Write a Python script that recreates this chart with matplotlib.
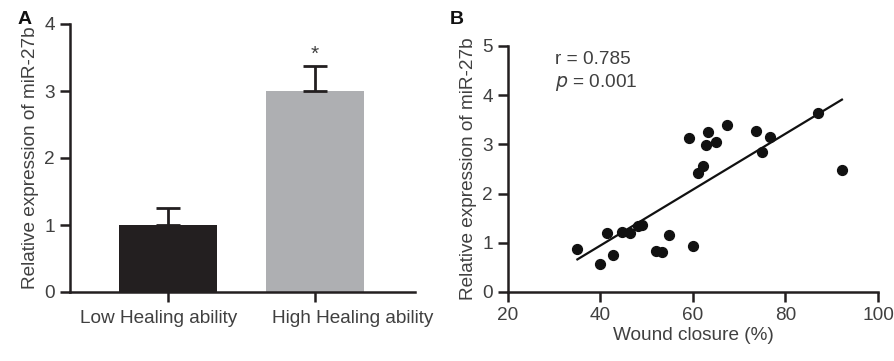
import numpy as np
import matplotlib
matplotlib.use("Agg")
import matplotlib.pyplot as plt

plt.rcParams['font.family'] = ['Liberation Sans', 'DejaVu Sans']

# Panel A data
groups = ["Low Healing ability", "High Healing ability"]
means = [1.0, 3.0]
errs = [0.26, 0.38]
bar_colors = ["#231f20", "#aeafb2"]

# Panel B data
wound = [35.0, 39.9, 41.5, 42.8, 44.6, 46.4, 48.2, 49.0, 51.9, 53.2, 54.9, 60.0,
         59.1, 61.0, 62.1, 62.8, 63.2, 65.0, 67.4, 73.7, 75.0, 76.6, 87.1, 92.2]
expr = [0.87, 0.57, 1.20, 0.75, 1.22, 1.19, 1.34, 1.36, 0.83, 0.81, 1.16, 0.94,
        3.14, 2.41, 2.57, 2.99, 3.25, 3.04, 3.39, 3.28, 2.85, 3.15, 3.63, 2.47]

W, H = 895, 361
fig = plt.figure(figsize=(W/100, H/100), dpi=100)
txt = "#404040"
fs = 13.7

def ax_rect(l, r, t, b):
    return [l/W, 1 - b/H, (r-l)/W, (b-t)/H]

# Panel A
axA = fig.add_axes(ax_rect(70, 415, 24, 292))
x = np.arange(len(groups))
axA.bar(x, means, width=0.667, color=bar_colors, zorder=2)
axA.errorbar(x, means, yerr=[[0, 0], errs], fmt='none', ecolor='#231f20',
             elinewidth=2, capsize=8.5, capthick=2, zorder=3)
axA.annotate("*", xy=(1, means[1] + errs[1]), xytext=(0, 1), textcoords='offset points',
             ha='center', va='bottom', fontsize=15, color=txt)
axA.set_xlim(-0.667, 1.68)
axA.set_ylim(0, 4)
axA.set_yticks([0, 1, 2, 3, 4])
axA.set_xticks(x)
axA.set_xticklabels([])
axA.set_ylabel("Relative expression of miR-27b", fontsize=fs, color=txt, labelpad=4)
# category labels sit off-centre from their ticks in the reference
shifts_pt = [-6.5, 27]
for xi, lab, dx in zip(x, groups, shifts_pt):
    axA.annotate(lab, xy=(xi, 0), xycoords=('data', 'axes fraction'),
                 xytext=(dx, -13), textcoords='offset points',
                 ha='center', va='top', fontsize=fs, color=txt, annotation_clip=False)

# Panel B
axB = fig.add_axes(ax_rect(508, 878, 46, 292))
axB.scatter(wound, expr, s=50, color='#111111', zorder=3, clip_on=False)
k, b = np.polyfit(wound, expr, 1)
xl = np.array([min(wound), max(wound)])
axB.plot(xl, k*xl + b, color='#111111', lw=1.6, zorder=2)
axB.set_xlim(20, 100)
axB.set_ylim(0, 5)
axB.set_xticks([20, 40, 60, 80, 100])
axB.set_yticks([0, 1, 2, 3, 4, 5])
axB.set_xlabel("Wound closure (%)", fontsize=fs, color=txt, labelpad=2)
axB.set_ylabel("Relative expression of miR-27b", fontsize=fs, color=txt, labelpad=4)
axB.text(0.127, 0.947, "r = 0.785", transform=axB.transAxes, fontsize=fs, color=txt, va='center')
axB.text(0.127, 0.852, r"$\it{p}$ = 0.001", transform=axB.transAxes, fontsize=fs, color=txt, va='center')

for ax in (axA, axB):
    for s in ('top', 'right'):
        ax.spines[s].set_visible(False)
    for s in ('left', 'bottom'):
        ax.spines[s].set_linewidth(1.8)
        ax.spines[s].set_color('#231f20')
    ax.tick_params(direction='out', length=7.5, width=1.8, color='#231f20',
                   labelsize=fs, labelcolor=txt)

fig.text(18/W, 1 - 19/H, "A", fontsize=14, fontweight='bold', va='center', ha='left', color='#111111')
fig.text(450/W, 1 - 19/H, "B", fontsize=14, fontweight='bold', va='center', ha='left', color='#111111')

fig.savefig("out.png", dpi=100)
